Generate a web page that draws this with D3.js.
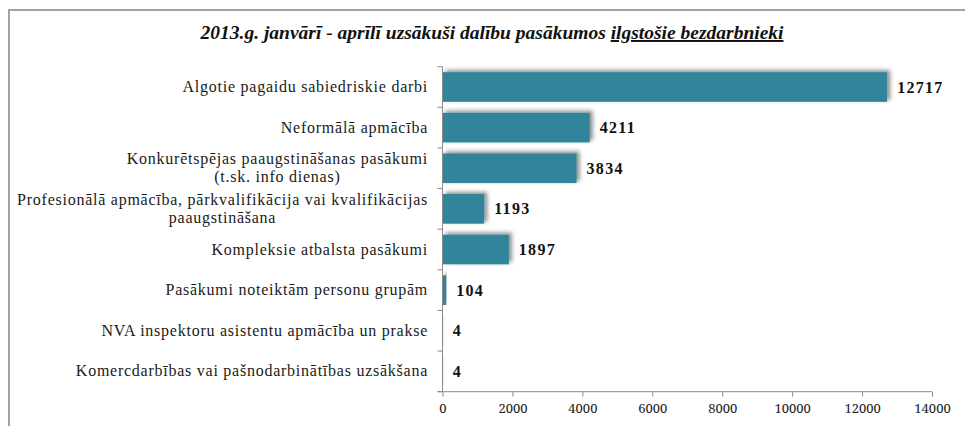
<!DOCTYPE html>
<html>
<head>
<meta charset="utf-8">
<script src="https://cdn.jsdelivr.net/npm/d3@7"></script>
<style>
  body { margin: 0; background: #fff; }
  svg { display: block; }
</style>
</head>
<body>
<div class="chart"></div>
<script>
// data
var categories = [
    "Algotie pagaidu sabiedriskie darbi",
    "Neformālā apmācība",
    "Konkurētspējas paaugstināšanas pasākumi\n(t.sk. info dienas)",
    "Profesionālā apmācība, pārkvalifikācija vai kvalifikācijas\npaaugstināšana",
    "Kompleksie atbalsta pasākumi",
    "Pasākumi noteiktām personu grupām",
    "NVA inspektoru asistentu apmācība un prakse",
    "Komercdarbības vai pašnodarbinātības uzsākšana"
];
var values = [12717, 4211, 3834, 1193, 1897, 104, 4, 4];
var xTicks = [0, 2000, 4000, 6000, 8000, 10000, 12000, 14000];
var titleMain = "2013.g. janvārī - aprīlī uzsākuši dalību pasākumos ";
var titleUnderlined = "ilgstošie bezdarbnieki";

var width = 965, height = 426;
var FONT = "Tinos, 'Times New Roman', serif";
var TICKFONT = "'Noto Serif', serif";

var svg = d3.select(".chart")
    .append("svg")
    .attr("width", width)
    .attr("height", height)
    .attr("font-family", FONT)

var defs = svg.append("defs")
var f = defs.append("filter")
    .attr("id", "shadow")
    .attr("x", "-20%").attr("y", "-40%")
    .attr("width", "140%").attr("height", "180%")
f.append("feDropShadow")
    .attr("dx", 3).attr("dy", -2)
    .attr("stdDeviation", 2)
    .attr("flood-color", "#000")
    .attr("flood-opacity", 0.45)

// frame (top + left edges)
svg.append("path")
    .attr("d", "M9,426V10H965")
    .attr("fill", "none")
    .attr("stroke", "#a3a3a3")
    .attr("stroke-width", 2)

// title
var title = svg.append("text")
    .attr("x", 492)
    .attr("y", 39)
    .attr("text-anchor", "middle")
    .attr("font-family", FONT)
    .attr("font-size", 19.5)
    .attr("font-weight", "bold")
    .attr("font-style", "italic")
    .attr("fill", "#111")
title.append("tspan").text(titleMain)
title.append("tspan").attr("text-decoration", "underline").text(titleUnderlined)

var x = d3.scaleLinear()
    .domain([0, 14000])
    .range([442.5, 932])

var y = d3.scaleBand()
    .domain(categories)
    .range([66.7, 391.7])
    .paddingInner(0.27)
    .paddingOuter(0.135)

var step = y.step();
var y0 = y.range()[0], y1 = y.range()[1];

// bars
svg.append("g")
    .selectAll("rect")
    .data(categories)
    .enter()
    .append("rect")
    .attr("x", x(0))
    .attr("y", function (d) { return y(d); })
    .attr("width", function (d, i) { return Math.max(0.6, x(values[i]) - x(0)); })
    .attr("height", y.bandwidth())
    .attr("fill", "#31849b")
    .attr("filter", "url(#shadow)")

// value labels
svg.append("g")
    .selectAll("text")
    .data(categories)
    .enter()
    .append("text")
    .attr("x", function (d, i) { return x(values[i]) + 10; })
    .attr("y", function (d) { return y(d) + y.bandwidth() / 2 + 5.5; })
    .attr("font-family", FONT)
    .attr("font-size", 16)
    .attr("font-weight", "bold")
    .attr("letter-spacing", 1.3)
    .attr("fill", "#111")
    .text(function (d, i) { return values[i]; })

// y axis
var yAxis = svg.append("g").attr("stroke", "#8c8c8c").attr("stroke-width", 1)
yAxis.append("line")
    .attr("x1", x(0)).attr("x2", x(0))
    .attr("y1", y0).attr("y2", y1)
for (var i = 0; i <= categories.length; i++) {
    yAxis.append("line")
        .attr("x1", x(0) - 5).attr("x2", x(0))
        .attr("y1", y0 + i * step).attr("y2", y0 + i * step)
}

// category labels
var labels = svg.append("g")
    .selectAll("text")
    .data(categories)
    .enter()
    .append("text")
    .attr("font-family", FONT)
    .attr("font-size", 16)
    .attr("letter-spacing", 0.75)
    .attr("fill", "#1a1a1a")
    .attr("text-anchor", "middle")

labels.each(function (d) {
    var t = d3.select(this);
    var lines = d.split("\n");
    var cy = y(d) + y.bandwidth() / 2;
    var lh = 18;
    lines.forEach(function (l, j) {
        t.append("tspan")
            .attr("y", cy + 5 + (j - (lines.length - 1) / 2) * lh)
            .text(l)
    })
    var w = 0;
    t.selectAll("tspan").each(function () {
        w = Math.max(w, this.getComputedTextLength());
    })
    t.selectAll("tspan").attr("x", 428 - w / 2)
})

// x axis
var xAxis = svg.append("g")
    .attr("transform", "translate(0," + y1 + ")")
    .call(d3.axisBottom(x).tickValues(xTicks).tickSize(5).tickSizeOuter(0).tickFormat(d3.format("d")))
xAxis.select(".domain").attr("stroke", "#8c8c8c").attr("d", "M" + (x(0) - 5) + ",0H" + x(14000))
xAxis.selectAll(".tick line").attr("stroke", "#8c8c8c")
xAxis.selectAll(".tick text")
    .attr("y", 12)
    .attr("font-family", TICKFONT)
    .attr("font-size", 13)
    .attr("fill", "#222")
</script>
</body>
</html>
